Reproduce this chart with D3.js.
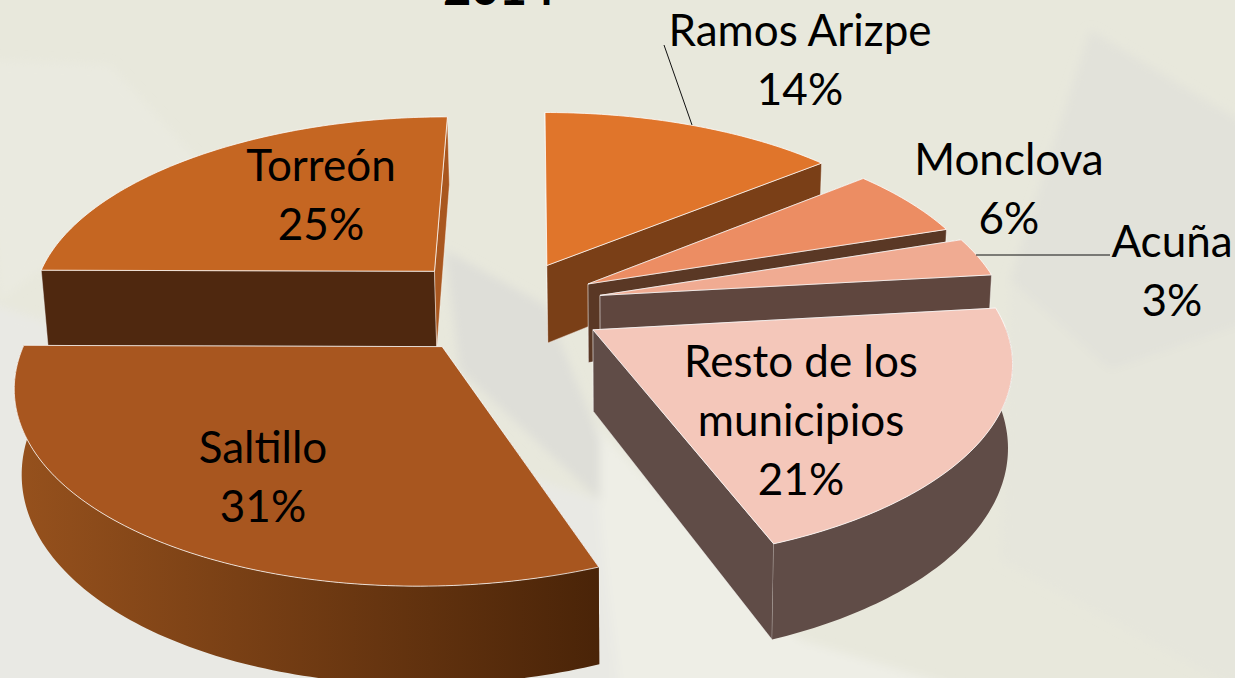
<!DOCTYPE html>
<html><head><meta charset="utf-8">
<script src="https://cdn.jsdelivr.net/npm/d3@7"></script>
<style>html,body{margin:0;padding:0;background:#e8e8dc;overflow:hidden}svg{display:block}text{font-family:Lato,"Open Sans",sans-serif;fill:#000}</style>
</head><body><svg id="c" width="1235" height="678"></svg>
<script>
const categories = ["Ramos Arizpe","Monclova","Acuña","Resto de los municipios","Saltillo","Torreón"];
const percentages = [14,6,3,21,31,25];
const sliceValues = [14.0,5.9,3.3,20.9,31.0,24.9];
const titleText = "2014";
const topColors = ["#e0752b","#ec8d63","#f0ab92","#f4c7ba","#a8561f","#c56622"];
const wallColors = ["#7a3f17","#5a3825","#5f463e","#604c47","#4f280f","#4f280f"];
const outerColors = [["#7a3f17","#7a3f17"],["#5a3825","#5a3825"],["#5f463e","#5f463e"],["#604c47","#604c47"],["#96511d","#4a2408"],["#a9571f","#a9571f"]];
const drawOrder = [5,0,1,2,3,4];
const explode = [0.24,0.235,0.24,0.25,0.26,0.26];
const labelLines = [["Ramos Arizpe"],["Monclova"],["Acuña"],["Resto de los","municipios"],["Saltillo"],["Torreón"]];
const labelPos = [[800,46],[1009,175],[1172,257],[801,377],[263,463],[321,181]];

const svg = d3.select("#c");
const defs = svg.append("defs");
defs.append("filter").attr("id","soft").attr("x","-5%").attr("y","-5%").attr("width","110%").attr("height","110%")
  .append("feGaussianBlur").attr("stdDeviation",5);
svg.append("rect").attr("width",1235).attr("height",678).attr("fill","#e8e8dc");
// background facets
const bg = [
 ["#eaeae0","110,65 280,250 40,270 0,300 -20,60"],
 ["#e9e9e4","-20,300 600,500 620,700 -20,700"],
 ["#eeeee6","590,420 800,640 1000,700 620,700"],
 ["#deded8","445,250 545,305 600,440 600,500 460,370"],
 ["#e2e2da","1090,30 1255,130 1255,320 1110,370 1010,280"],
 ["#e6e6dc","1010,280 1110,370 1255,320 1255,700 1000,560"]
];
svg.append("g").attr("filter","url(#soft)").selectAll("polygon").data(bg).join("polygon").attr("fill",d=>d[0]).attr("points",d=>d[1]);

// perspective projection of the pie plane
const xc=627, cy=305, u0=-0.3, Sx=405, Sy=188, k=0.155, Dz=80, lean=0.012, shear=12;
function project(u,v,z){
  const w=1+k*v;
  const dx=Sx*(u+u0)/w*(1-lean*z);
  return [xc+dx-shear*v, cy+(-Sy*v+Dz*z)/w];
}
const pie=d3.pie().sort(null).startAngle(0).endAngle(2*Math.PI);
const arcs=pie(sliceValues);
const line=d3.line();
const closed=p=>line(p)+"Z";

arcs.forEach((a,i)=>{
  const g=defs.append("linearGradient").attr("id","g"+i).attr("gradientUnits","userSpaceOnUse")
    .attr("x1",17).attr("x2",598).attr("y1",0).attr("y2",0);
  g.append("stop").attr("offset",0).attr("stop-color",outerColors[i][0]);
  g.append("stop").attr("offset",1).attr("stop-color",outerColors[i][1]);
});

const chart=svg.append("g");
drawOrder.forEach(i=>{
  const a=arcs[i], mid=(a.startAngle+a.endAngle)/2;
  const ou=explode[i]*Math.sin(mid), ov=explode[i]*Math.cos(mid);
  const P=(r,t,z)=>project(ou+r*Math.sin(t),ov+r*Math.cos(t),z);
  const n=Math.max(8,Math.round((a.endAngle-a.startAngle)*60));
  const ts=d3.range(n+1).map(j=>a.startAngle+(a.endAngle-a.startAngle)*j/n);
  const g=chart.append("g");
  [a.startAngle,a.endAngle].forEach(t=>{
    const q=[P(0,t,0),P(1,t,0),P(1,t,1),P(0,t,1)];
    g.append("path").attr("d",closed(q))
     .attr("fill",(i===5&&t===a.endAngle)?outerColors[5][0]:wallColors[i])
     .attr("stroke","#fff").attr("stroke-width",0.6).attr("stroke-opacity",0.7);
  });
  const front=ts.filter(t=>Math.cos(t)<0.02);
  if(front.length>1){
    const outer=front.map(t=>P(1,t,0)).concat(front.slice().reverse().map(t=>P(1,t,1)));
    g.append("path").attr("d",closed(outer)).attr("fill",`url(#g${i})`);
  }
  const top=[P(0,0,0)].concat(ts.map(t=>P(1,t,0)));
  g.append("path").attr("d",closed(top)).attr("fill",topColors[i]).attr("stroke","#fff").attr("stroke-width",0.9).attr("stroke-opacity",0.85);
});

// leader lines
const leaders=[[[664,45],[692,125]],[[976,255],[1110,255]]];
svg.append("g").selectAll("path").data(leaders).join("path").attr("d",d=>line(d)).attr("fill","none").attr("stroke","#111").attr("stroke-width",1);

// labels
const fs=44, lh=59;
categories.forEach((c,i)=>{
  const lines=labelLines[i].concat([percentages[i]+"%"]);
  const t=svg.append("text").attr("text-anchor","middle").attr("font-size",fs);
  lines.forEach((s,j)=>t.append("tspan").attr("x",labelPos[i][0]).attr("y",labelPos[i][1]+j*lh).text(s));
});
svg.append("text").attr("x",499).attr("y",5).attr("text-anchor","middle").attr("font-size",48).attr("font-weight",900).text(titleText);
</script></body></html>
